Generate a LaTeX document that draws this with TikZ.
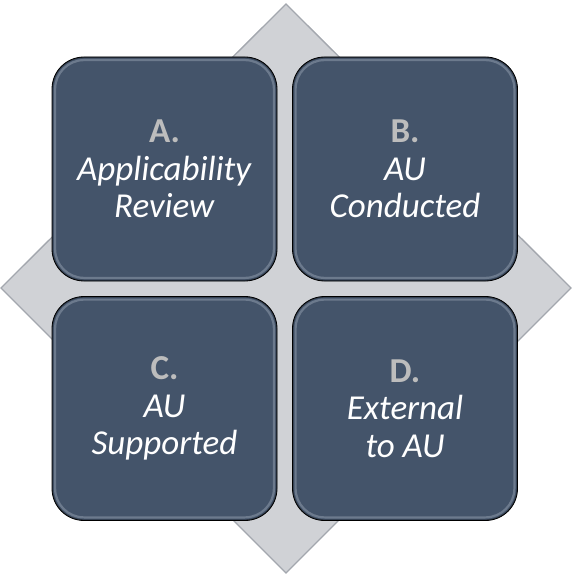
\documentclass[tikz,border=0pt]{standalone}
\usepackage{fontspec}
\setmainfont{Carlito}
\begin{document}
\begin{tikzpicture}[x=1pt,y=-1pt,
  quad/.style={draw=black, line width=0.8pt, fill=boxfill, rounded corners=32pt,
    minimum width=225pt, minimum height=224pt, inner sep=0pt, align=center,
    text=white, font=\fontsize{35}{37.5}\selectfont},
  rim/.style={draw=rimcol, line width=2.2pt, rounded corners=29pt, opacity=0.4},
  rimdark/.style={draw=black, line width=1.2pt, rounded corners=31pt, opacity=0.3}]
\definecolor{boxfill}{HTML}{44546A}
\definecolor{rimcol}{HTML}{A9B3C2}
\definecolor{lettergray}{HTML}{BDBDBD}
\definecolor{diamondfill}{HTML}{D0D2D6}
\definecolor{diamondline}{HTML}{A3A7AE}
\useasboundingbox (0,0) rectangle (576,575);
\coordinate (top) at (286,4);
\coordinate (right) at (571,288);
\coordinate (bottom) at (286,573);
\coordinate (left) at (1,288);
\path[fill=diamondfill, draw=diamondline, line width=1.3pt, line join=miter]
  (top) -- (right) -- (bottom) -- (left) -- cycle;
\node[quad] (A) at (164.5,169) {{\bfseries\color{lettergray}A.}\\\textit{Applicability}\\\textit{Review}};
\node[quad] (B) at (405,169) {{\bfseries\color{lettergray}B.}\\\textit{AU}\\\textit{Conducted}};
\node[quad] (C) at (164.5,408.5) {{\bfseries\color{lettergray}C.}\\\textit{AU}\\\textit{Supported}};
\node[quad] (D) at (405,408.5) {{\bfseries\color{lettergray}D.}\\\textit{External}\\\textit{to AU}};
\foreach \n in {A,B,C,D}{
  \draw[rim] ([shift={(3.5,3.5)}]\n.north west) rectangle ([shift={(-3.5,-3.5)}]\n.south east);
  \draw[rimdark] ([shift={(1,1)}]\n.north west) rectangle ([shift={(-1,-1)}]\n.south east);
}
\end{tikzpicture}
\end{document}
